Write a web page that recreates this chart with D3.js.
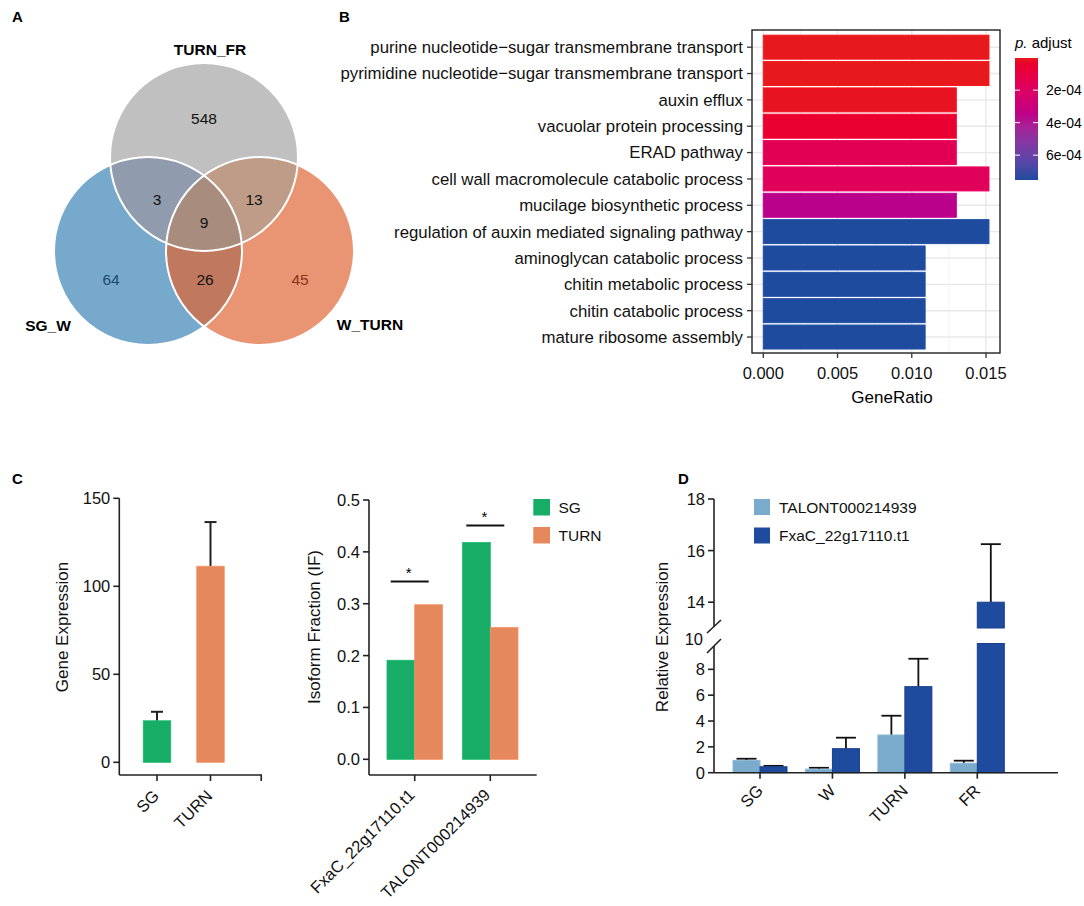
<!DOCTYPE html>
<html><head><meta charset="utf-8">
<script src="https://cdn.jsdelivr.net/npm/d3@7"></script>
<style>
body{margin:0;background:#fff}
svg{display:block}
text{font-family:"Liberation Sans",Arial,Helvetica,sans-serif;fill:#000}
</style>
</head><body>
<svg id="chart" width="1084" height="906"></svg>
<script>
// ---------------- DATA ----------------
// Panel A (Venn)
const vennSets = ["TURN_FR", "SG_W", "W_TURN"];
const vennRegions = ["TURN_FR only", "SG_W only", "W_TURN only", "TURN_FR&SG_W", "TURN_FR&W_TURN", "SG_W&W_TURN", "all"];
const vennCounts = [548, 64, 45, 3, 13, 26, 9];

// Panel B (GO enrichment)
const goTerms = [
  "purine nucleotide\u2212sugar transmembrane transport",
  "pyrimidine nucleotide\u2212sugar transmembrane transport",
  "auxin efflux",
  "vacuolar protein processing",
  "ERAD pathway",
  "cell wall macromolecule catabolic process",
  "mucilage biosynthetic process",
  "regulation of auxin mediated signaling pathway",
  "aminoglycan catabolic process",
  "chitin metabolic process",
  "chitin catabolic process",
  "mature ribosome assembly"
];
const geneRatio = [0.0152, 0.0152, 0.0130, 0.0130, 0.0130, 0.0152, 0.0130, 0.0152, 0.0109, 0.0109, 0.0109, 0.0109];
const pAdjust = [2e-6, 2e-6, 1.0e-5, 5.0e-5, 1.6e-4, 1.7e-4, 3.6e-4, 7.53e-4, 7.53e-4, 7.53e-4, 7.53e-4, 7.53e-4];
const ratioTicks = [0, 0.005, 0.010, 0.015];
const ratioMinor = [0.0025, 0.0075, 0.0125];
const pTicks = [2e-4, 4e-4, 6e-4];
const pTickLabels = ["2e-04", "4e-04", "6e-04"];

// Panel C left (gene expression)
const exprGroups = ["SG", "TURN"];
const exprMean = [23.6, 111.4];
const exprSD = [5.1, 25.1];
const exprTicks = [0, 50, 100, 150];

// Panel C right (isoform fraction)
const isoforms = ["FxaC_22g17110.t1", "TALONT000214939"];
const isoSeries = ["SG", "TURN"];
const ifSG = [0.191, 0.418];
const ifTURN = [0.298, 0.254];
const ifSigLevel = [0.343, 0.451];
const ifTicks = [0, 0.1, 0.2, 0.3, 0.4, 0.5];

// Panel D (qRT-PCR)
const stages = ["SG", "W", "TURN", "FR"];
const qSeries = ["TALONT000214939", "FxaC_22g17110.t1"];
const relTALONT = [0.95, 0.27, 2.92, 0.73];
const sdTALONT = [0.13, 0.11, 1.49, 0.20];
const relFxaC = [0.46, 1.86, 6.66, 14.0];
const sdFxaC = [0.07, 0.85, 2.16, 2.25];
const lowTicks = [0, 2, 4, 6, 8, 10];
const highTicks = [14, 16, 18];

// ---------------- DRAW ----------------
const svg = d3.select("#chart");

function panelLetter(t, x, y) {
  svg.append("text").attr("x", x).attr("y", y).text(t)
    .style("font-weight", "bold").style("font-size", "15px");
}
panelLetter("A", 12, 22);
panelLetter("B", 339, 22);
panelLetter("C", 12, 484);
panelLetter("D", 678, 484);

// ===== Panel A: Venn =====
(function () {
  const g = svg.append("g");
  const r = 94;
  const circles = [
    { name: vennSets[0], cx: 204, cy: 157, fill: "#c0c0c0" },
    { name: vennSets[1], cx: 148, cy: 251, fill: "#76a9cc" },
    { name: vennSets[2], cx: 260, cy: 251, fill: "#e99472" }
  ];
  const defs = svg.append("defs");
  circles.forEach((c, i) => {
    defs.append("clipPath").attr("id", "vc" + i)
      .append("circle").attr("cx", c.cx).attr("cy", c.cy).attr("r", r);
  });
  circles.forEach(c => g.append("circle").attr("cx", c.cx).attr("cy", c.cy).attr("r", r).attr("fill", c.fill));
  g.append("circle").attr("cx", circles[1].cx).attr("cy", circles[1].cy).attr("r", r)
    .attr("clip-path", "url(#vc0)").attr("fill", "#909cad");
  g.append("circle").attr("cx", circles[2].cx).attr("cy", circles[2].cy).attr("r", r)
    .attr("clip-path", "url(#vc0)").attr("fill", "#bf9c88");
  g.append("circle").attr("cx", circles[2].cx).attr("cy", circles[2].cy).attr("r", r)
    .attr("clip-path", "url(#vc1)").attr("fill", "#c0785f");
  g.append("g").attr("clip-path", "url(#vc0)")
    .append("circle").attr("cx", circles[2].cx).attr("cy", circles[2].cy).attr("r", r)
    .attr("clip-path", "url(#vc1)").attr("fill", "#a88c7e");
  circles.forEach(c => g.append("circle").attr("cx", c.cx).attr("cy", c.cy).attr("r", r)
    .attr("fill", "none").attr("stroke", "#fff").attr("stroke-width", 2));

  const pos = [[204, 119], [111, 280], [300, 280], [157, 200], [254, 200], [205, 280], [204, 223]];
  const col = ["#111", "#1f4a6e", "#8a3418", "#111", "#111", "#111", "#111"];
  vennCounts.forEach((v, i) => {
    g.append("text").attr("x", pos[i][0]).attr("y", pos[i][1]).attr("dy", "0.35em")
      .attr("text-anchor", "middle").style("font-size", "15.5px").style("fill", col[i]).text(v);
  });
  const lab = [[210, 55], [48, 331], [370, 330]];
  vennSets.forEach((s, i) => {
    g.append("text").attr("x", lab[i][0]).attr("y", lab[i][1]).attr("text-anchor", "middle")
      .style("font-weight", "bold").style("font-size", "15.5px").text(s);
  });
})();

// ===== Panel B: GO bar chart =====
(function () {
  const px0 = 752, px1 = 1000, py0 = 30, py1 = 353;
  const x = d3.scaleLinear().domain([0, 0.015]).range([763.3, 986]);
  const y = d3.scaleBand().domain(goTerms).range([34, 350.2]).paddingInner(0.09).paddingOuter(0.045);
  const pExt = d3.extent(pAdjust);
  const color = d3.scaleLinear().domain(pExt).range(["#e8191d", "#1f4b9f"]).interpolate(d3.interpolateHcl);
  const g = svg.append("g");
  g.append("rect").attr("x", px0).attr("y", py0).attr("width", px1 - px0).attr("height", py1 - py0).attr("fill", "#fff");
  ratioMinor.forEach(v => g.append("line").attr("x1", x(v)).attr("x2", x(v)).attr("y1", py0).attr("y2", py1)
    .attr("stroke", "#f0f0f0").attr("stroke-width", 0.8));
  ratioTicks.forEach(v => g.append("line").attr("x1", x(v)).attr("x2", x(v)).attr("y1", py0).attr("y2", py1)
    .attr("stroke", "#e8e8e8").attr("stroke-width", 1.4));
  goTerms.forEach(t => {
    const yc = y(t) + y.bandwidth() / 2;
    g.append("line").attr("x1", px0).attr("x2", px1).attr("y1", yc).attr("y2", yc)
      .attr("stroke", "#e8e8e8").attr("stroke-width", 1.4);
  });
  g.selectAll(".gobar").data(goTerms).enter().append("rect")
    .attr("x", x(0)).attr("y", d => y(d))
    .attr("width", (d, i) => x(geneRatio[i]) - x(0)).attr("height", y.bandwidth())
    .attr("fill", (d, i) => color(pAdjust[i]))
    .attr("stroke", (d, i) => d3.color(color(pAdjust[i])).brighter(0.15)).attr("stroke-width", 1);
  g.append("rect").attr("x", px0).attr("y", py0).attr("width", px1 - px0).attr("height", py1 - py0)
    .attr("fill", "none").attr("stroke", "#222").attr("stroke-width", 1.4);
  goTerms.forEach(t => {
    const yc = y(t) + y.bandwidth() / 2;
    g.append("line").attr("x1", px0 - 5).attr("x2", px0).attr("y1", yc).attr("y2", yc).attr("stroke", "#333").attr("stroke-width", 1.3);
    g.append("text").attr("x", px0 - 9).attr("y", yc).attr("dy", "0.35em").attr("text-anchor", "end")
      .style("font-size", "16.8px").style("fill", "#111").text(t);
  });
  ratioTicks.forEach(v => {
    g.append("line").attr("x1", x(v)).attr("x2", x(v)).attr("y1", py1).attr("y2", py1 + 5).attr("stroke", "#333").attr("stroke-width", 1.3);
    g.append("text").attr("x", x(v)).attr("y", 373).attr("dy", "0.35em").attr("text-anchor", "middle")
      .style("font-size", "16.5px").style("fill", "#111").text(d3.format(".3f")(v));
  });
  g.append("text").attr("x", 892).attr("y", 403).attr("text-anchor", "middle").style("font-size", "17px").text("GeneRatio");

  // colour legend
  const ly = d3.scaleLinear().domain(pExt).range([58, 180]);
  const grad = svg.append("defs").append("linearGradient").attr("id", "pgrad")
    .attr("x1", 0).attr("x2", 0).attr("y1", 0).attr("y2", 1);
  d3.range(0, 1.0001, 0.05).forEach(t => {
    grad.append("stop").attr("offset", t).attr("stop-color", color(pExt[0] + t * (pExt[1] - pExt[0])));
  });
  g.append("rect").attr("x", 1015).attr("y", ly(pExt[0])).attr("width", 23).attr("height", ly(pExt[1]) - ly(pExt[0]))
    .attr("fill", "url(#pgrad)");
  pTicks.forEach((v, i) => {
    g.append("line").attr("x1", 1015).attr("x2", 1020).attr("y1", ly(v)).attr("y2", ly(v)).attr("stroke", "#fff").attr("stroke-width", 1);
    g.append("line").attr("x1", 1033).attr("x2", 1038).attr("y1", ly(v)).attr("y2", ly(v)).attr("stroke", "#fff").attr("stroke-width", 1);
    g.append("text").attr("x", 1046).attr("y", ly(v)).attr("dy", "0.35em").style("font-size", "14px").text(pTickLabels[i]);
  });
  const tt = g.append("text").attr("x", 1015).attr("y", 48).style("font-size", "15px");
  tt.append("tspan").style("font-style", "italic").text("p.");
  tt.append("tspan").text(" adjust");
})();

// helpers for Prism-style panels
function yAxisLeft(g, scale, ticks, xPos, fmt, yTop, yBottom) {
  g.append("line").attr("x1", xPos).attr("x2", xPos).attr("y1", yTop).attr("y2", yBottom)
    .attr("stroke", "#222").attr("stroke-width", 1.6);
  ticks.forEach(v => {
    g.append("line").attr("x1", xPos - 6).attr("x2", xPos).attr("y1", scale(v)).attr("y2", scale(v))
      .attr("stroke", "#222").attr("stroke-width", 1.6);
    g.append("text").attr("x", xPos - 9).attr("y", scale(v)).attr("dy", "0.36em").attr("text-anchor", "end")
      .style("font-size", "16.5px").style("fill", "#111").text(fmt(v));
  });
}
function rotLabel(g, x, y, t) {
  g.append("text").attr("transform", `translate(${x},${y}) rotate(-45)`).attr("text-anchor", "end")
    .style("font-size", "16.5px").style("fill", "#111").text(t);
}
function yTitle(g, x, y, t) {
  g.append("text").attr("transform", `translate(${x},${y}) rotate(-90)`).attr("text-anchor", "middle")
    .attr("dy", "0.35em").style("font-size", "17px").style("fill", "#111").text(t);
}

const GREEN = "#17ad66", ORANGE = "#e5885c";

// ===== Panel C left =====
(function () {
  const g = svg.append("g");
  const axisY = 775;
  const y = d3.scaleLinear().domain([0, 150]).range([762.3, 498.3]);
  const x = d3.scalePoint().domain(exprGroups).range([157, 210.5]);
  const bw = 27.5;
  const cols = [GREEN, ORANGE];
  exprGroups.forEach((grp, i) => {
    const cx = x(grp);
    g.append("line").attr("x1", cx).attr("x2", cx).attr("y1", y(exprMean[i])).attr("y2", y(exprMean[i] + exprSD[i]))
      .attr("stroke", "#222").attr("stroke-width", 2);
    g.append("line").attr("x1", cx - 6).attr("x2", cx + 6).attr("y1", y(exprMean[i] + exprSD[i])).attr("y2", y(exprMean[i] + exprSD[i]))
      .attr("stroke", "#222").attr("stroke-width", 2);
    g.append("rect").attr("x", cx - bw / 2).attr("y", y(exprMean[i])).attr("width", bw).attr("height", y(0) - y(exprMean[i]))
      .attr("fill", cols[i]).attr("stroke", d3.color(cols[i]).brighter(0.2)).attr("stroke-width", 0.8);
  });
  yAxisLeft(g, y, exprTicks, 119.3, d3.format("d"), y(150), axisY);
  const xEnd = 262;
  g.append("line").attr("x1", 119.3).attr("x2", xEnd).attr("y1", axisY).attr("y2", axisY).attr("stroke", "#222").attr("stroke-width", 1.6);
  exprGroups.forEach(grp => {
    g.append("line").attr("x1", x(grp)).attr("x2", x(grp)).attr("y1", axisY).attr("y2", axisY + 6).attr("stroke", "#222").attr("stroke-width", 1.6);
    rotLabel(g, x(grp) + 3, axisY + 22, grp);
  });
  g.append("line").attr("x1", xEnd - 0.8).attr("x2", xEnd - 0.8).attr("y1", axisY).attr("y2", axisY + 6).attr("stroke", "#222").attr("stroke-width", 1.6);
  yTitle(g, 62.5, 627, "Gene Expression");
})();

// ===== Panel C right =====
(function () {
  const g = svg.append("g");
  const axisY = 775;
  const y = d3.scaleLinear().domain([0, 0.5]).range([759.3, 500]);
  const x = d3.scalePoint().domain(isoforms).range([414.7, 490.3]);
  const inner = d3.scaleBand().domain(isoSeries).range([-27.7, 27.7]);
  const vals = [ifSG, ifTURN];
  const cols = [GREEN, ORANGE];
  isoforms.forEach((iso, i) => {
    isoSeries.forEach((s, j) => {
      const v = vals[j][i];
      g.append("rect").attr("x", x(iso) + inner(s)).attr("y", y(v)).attr("width", inner.bandwidth()).attr("height", y(0) - y(v))
        .attr("fill", cols[j]).attr("stroke", d3.color(cols[j]).brighter(0.2)).attr("stroke-width", 0.8);
    });
    const ly = y(ifSigLevel[i]);
    g.append("line").attr("x1", x(iso) - 24).attr("x2", x(iso) + 14).attr("y1", ly).attr("y2", ly)
      .attr("stroke", "#111").attr("stroke-width", 2);
    g.append("text").attr("x", x(iso) - 6).attr("y", ly - 3).attr("text-anchor", "middle")
      .style("font-size", "15px").text("*");
  });
  yAxisLeft(g, y, ifTicks, 369, d3.format(".1f"), y(0.5), axisY);
  g.append("line").attr("x1", 369).attr("x2", 536.7).attr("y1", axisY).attr("y2", axisY).attr("stroke", "#222").attr("stroke-width", 1.6);
  isoforms.forEach(iso => {
    g.append("line").attr("x1", x(iso)).attr("x2", x(iso)).attr("y1", axisY).attr("y2", axisY + 6).attr("stroke", "#222").attr("stroke-width", 1.6);
    rotLabel(g, x(iso) + 1, axisY + 21, iso);
  });
  yTitle(g, 314, 627, "Isoform Fraction (IF)");
  const ly = d3.scalePoint().domain(isoSeries).range([507, 535]);
  isoSeries.forEach((s, j) => {
    g.append("rect").attr("x", 533.3).attr("y", ly(s) - 8).attr("width", 16.7).attr("height", 16.5).attr("fill", cols[j]);
    g.append("text").attr("x", 558.5).attr("y", ly(s)).attr("dy", "0.36em").style("font-size", "15.5px").style("fill", "#111").text(s);
  });
})();

// ===== Panel D =====
(function () {
  const g = svg.append("g");
  const axX = 714;
  const yLow = d3.scaleLinear().domain([0, 10]).range([772.7, 643.5]);
  const yHigh = d3.scaleLinear().domain([13, 18]).range([628, 499]);
  const yv = v => v <= 10 ? yLow(v) : yHigh(v);
  const x = d3.scalePoint().domain(stages).range([760, 977.3]);
  const inner = d3.scaleBand().domain(qSeries).range([-27, 27]);
  const LIGHT = "#7aabcc", DARK = "#1f4b9f";
  const series = [
    { name: qSeries[0], vals: relTALONT, sd: sdTALONT, fill: LIGHT, stroke: "#8fb8d4" },
    { name: qSeries[1], vals: relFxaC, sd: sdFxaC, fill: DARK, stroke: "#173f8d" }
  ];
  series.forEach(s => {
    stages.forEach((st, i) => {
      const x0 = x(st) + inner(s.name), w = inner.bandwidth(), cx = x0 + w / 2;
      const v = s.vals[i], top = v + s.sd[i];
      const ty = yv(top);
      g.append("line").attr("x1", cx).attr("x2", cx).attr("y1", yv(v)).attr("y2", ty).attr("stroke", "#111").attr("stroke-width", 1.8);
      g.append("line").attr("x1", cx - 10).attr("x2", cx + 10).attr("y1", ty).attr("y2", ty).attr("stroke", "#111").attr("stroke-width", 1.8);
      if (v <= 10) {
        g.append("rect").attr("x", x0).attr("y", yLow(v)).attr("width", w).attr("height", yLow(0) - yLow(v))
          .attr("fill", s.fill).attr("stroke", s.stroke).attr("stroke-width", 1);
      } else {
        g.append("rect").attr("x", x0).attr("y", yLow(10)).attr("width", w).attr("height", yLow(0) - yLow(10))
          .attr("fill", s.fill).attr("stroke", s.stroke).attr("stroke-width", 1);
        g.append("rect").attr("x", x0).attr("y", yHigh(v)).attr("width", w).attr("height", yHigh(13) - yHigh(v))
          .attr("fill", s.fill).attr("stroke", s.stroke).attr("stroke-width", 1);
      }
    });
  });
  g.append("line").attr("x1", axX).attr("x2", axX).attr("y1", yLow(0)).attr("y2", 646).attr("stroke", "#222").attr("stroke-width", 1.6);
  g.append("line").attr("x1", axX).attr("x2", axX).attr("y1", yHigh(18)).attr("y2", 627).attr("stroke", "#222").attr("stroke-width", 1.6);
  g.append("line").attr("x1", 707).attr("x2", 721).attr("y1", 633).attr("y2", 620).attr("stroke", "#222").attr("stroke-width", 1.6);
  g.append("line").attr("x1", 707).attr("x2", 721).attr("y1", 653).attr("y2", 639).attr("stroke", "#222").attr("stroke-width", 1.6);
  lowTicks.forEach(v => {
    if (v < 10) g.append("line").attr("x1", axX - 6).attr("x2", axX).attr("y1", yLow(v)).attr("y2", yLow(v)).attr("stroke", "#222").attr("stroke-width", 1.6);
    g.append("text").attr("x", v === 10 ? 703 : 705).attr("y", v === 10 ? yLow(v) - 4 : yLow(v)).attr("dy", "0.36em").attr("text-anchor", "end")
      .style("font-size", "16.5px").style("fill", "#111").text(v);
  });
  highTicks.forEach(v => {
    g.append("line").attr("x1", axX - 6).attr("x2", axX).attr("y1", yHigh(v)).attr("y2", yHigh(v)).attr("stroke", "#222").attr("stroke-width", 1.6);
    g.append("text").attr("x", 705).attr("y", yHigh(v)).attr("dy", "0.36em").attr("text-anchor", "end")
      .style("font-size", "16.5px").style("fill", "#111").text(v);
  });
  g.append("line").attr("x1", axX).attr("x2", 1058).attr("y1", yLow(0)).attr("y2", yLow(0)).attr("stroke", "#222").attr("stroke-width", 1.6);
  stages.forEach(st => {
    g.append("line").attr("x1", x(st)).attr("x2", x(st)).attr("y1", yLow(0)).attr("y2", yLow(0) + 6).attr("stroke", "#222").attr("stroke-width", 1.6);
    rotLabel(g, x(st) + 4, yLow(0) + 19, st);
  });
  yTitle(g, 662, 637, "Relative Expression");
  const ly = d3.scalePoint().domain(qSeries).range([507, 535.5]);
  series.forEach(s => {
    g.append("rect").attr("x", 754).attr("y", ly(s.name) - 8).attr("width", 16).attr("height", 16).attr("fill", s.fill);
    g.append("text").attr("x", 779).attr("y", ly(s.name)).attr("dy", "0.36em").style("font-size", "15.5px").style("fill", "#111").text(s.name);
  });
})();
</script>
</body></html>
